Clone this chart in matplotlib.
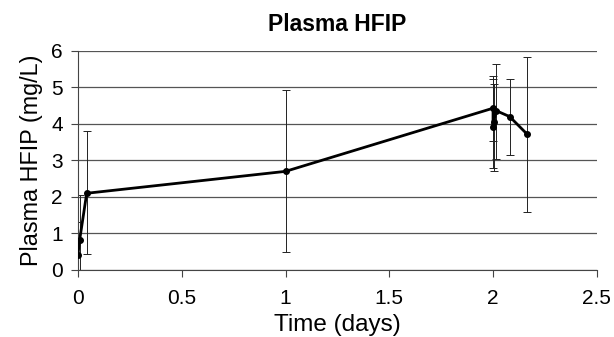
import numpy as np
import matplotlib.pyplot as plt

plt.rcParams['font.family'] = ['Liberation Sans', 'DejaVu Sans']

time_days = [0.0, 0.0083, 0.042, 1.0, 2.0, 2.0, 2.003, 2.016, 2.08, 2.164]
hfip = [0.42, 0.83, 2.1, 2.7, 4.43, 3.91, 4.05, 4.36, 4.2, 3.72]
err_hi = [1.32, 2.05, 3.8, 4.93, 5.30, 5.22, 5.1, 5.64, 5.23, 5.83]
err_lo = [0.0, 0.0, 0.44, 0.48, 3.52, 2.79, 2.72, 3.03, 3.15, 1.6]

t = np.array(time_days)
y = np.array(hfip)
yerr = [y - np.array(err_lo), np.array(err_hi) - y]

fig = plt.figure(figsize=(6.14, 3.37), dpi=100)
ax = fig.add_axes([0.127, 0.199, 0.845, 0.650])

ax.errorbar(t, y, yerr=yerr, fmt='none', ecolor='#222222', elinewidth=0.7,
            capsize=3, capthick=0.7, zorder=2)
ax.plot(t, y, color='black', linewidth=2, marker='o', markersize=4, zorder=3)

ax.set_xlim(0, 2.5)
ax.set_ylim(0, 6)
ax.set_xticks([0, 0.5, 1, 1.5, 2, 2.5])
ax.set_xticklabels(['0', '0.5', '1', '1.5', '2', '2.5'])
ax.set_yticks(range(7))
ax.yaxis.grid(True, color='#555555', linewidth=0.9)
ax.set_axisbelow(True)
for s in ['top', 'right']:
    ax.spines[s].set_visible(False)
ax.spines['left'].set_color('#444444')
ax.spines['bottom'].set_color('#444444')
ax.tick_params(axis='both', direction='out', length=5, labelsize=15, color='#444444')
ax.tick_params(axis='x', pad=9)
ax.tick_params(axis='y', pad=6)

ax.set_xlabel('Time (days)', fontsize=17.5, labelpad=4)
ax.set_ylabel('Plasma HFIP (mg/L)', fontsize=16.8, labelpad=6)
ax.set_title('Plasma HFIP', fontsize=16.5, fontweight='bold', pad=14)

fig.savefig('out.png', dpi=100)
